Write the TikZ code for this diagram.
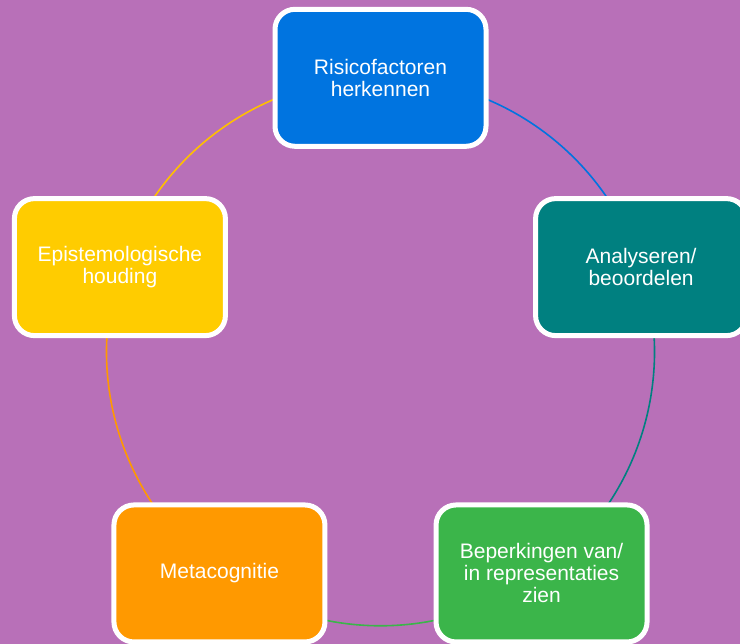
\documentclass[tikz,border=0pt]{standalone}
\usepackage{fontspec}
\setmainfont{Liberation Sans}
\usetikzlibrary{backgrounds}
\definecolor{bg}{HTML}{B870B8}
\definecolor{cblue}{HTML}{0074E0}
\definecolor{cteal}{HTML}{008080}
\definecolor{cgreen}{HTML}{3BB54A}
\definecolor{corange}{HTML}{FF9900}
\definecolor{cyellow}{HTML}{FFCC00}
\definecolor{cyellowline}{HTML}{FFC000}
\begin{document}
\begin{tikzpicture}[x=1pt,y=1pt,
  box/.style={draw=white, line width=5pt, rounded corners=20pt,
    minimum width=211pt, minimum height=137pt, text=white, align=center,
    font=\fontsize{21}{22}\selectfont, inner sep=0pt},
  link/.style={line width=1.6pt}]
\useasboundingbox (0,0) rectangle (740,644);
\coordinate (O) at (380.5,292.2);
\node[box, fill=cblue]   (risk) at ([shift={(90:274)}]O)   {Risicofactoren\\herkennen};
\node[box, fill=cteal]   (anal) at ([shift={(18:274)}]O)   {Analyseren/\\beoordelen};
\node[box, fill=cgreen]  (bep)  at ([shift={(-54:274)}]O)  {Beperkingen van/\\in representaties\\zien};
\node[box, fill=corange] (meta) at ([shift={(-126:274)}]O) {Metacognitie};
\node[box, fill=cyellow] (epi)  at ([shift={(162:274)}]O)  {Epistemologische\\houding};
\begin{scope}[on background layer]
  \fill[bg] (0,0) rectangle (740,644);
  \draw[link, cblue]       (risk.center) arc[start angle=90,  end angle=18,   radius=274];
  \draw[link, cteal]       (anal.center) arc[start angle=18,  end angle=-54,  radius=274];
  \draw[link, cgreen]      (bep.center)  arc[start angle=-54, end angle=-126, radius=274];
  \draw[link, corange]     (meta.center) arc[start angle=234, end angle=162,  radius=274];
  \draw[link, cyellowline] (epi.center)  arc[start angle=162, end angle=90,   radius=274];
\end{scope}
\end{tikzpicture}
\end{document}
